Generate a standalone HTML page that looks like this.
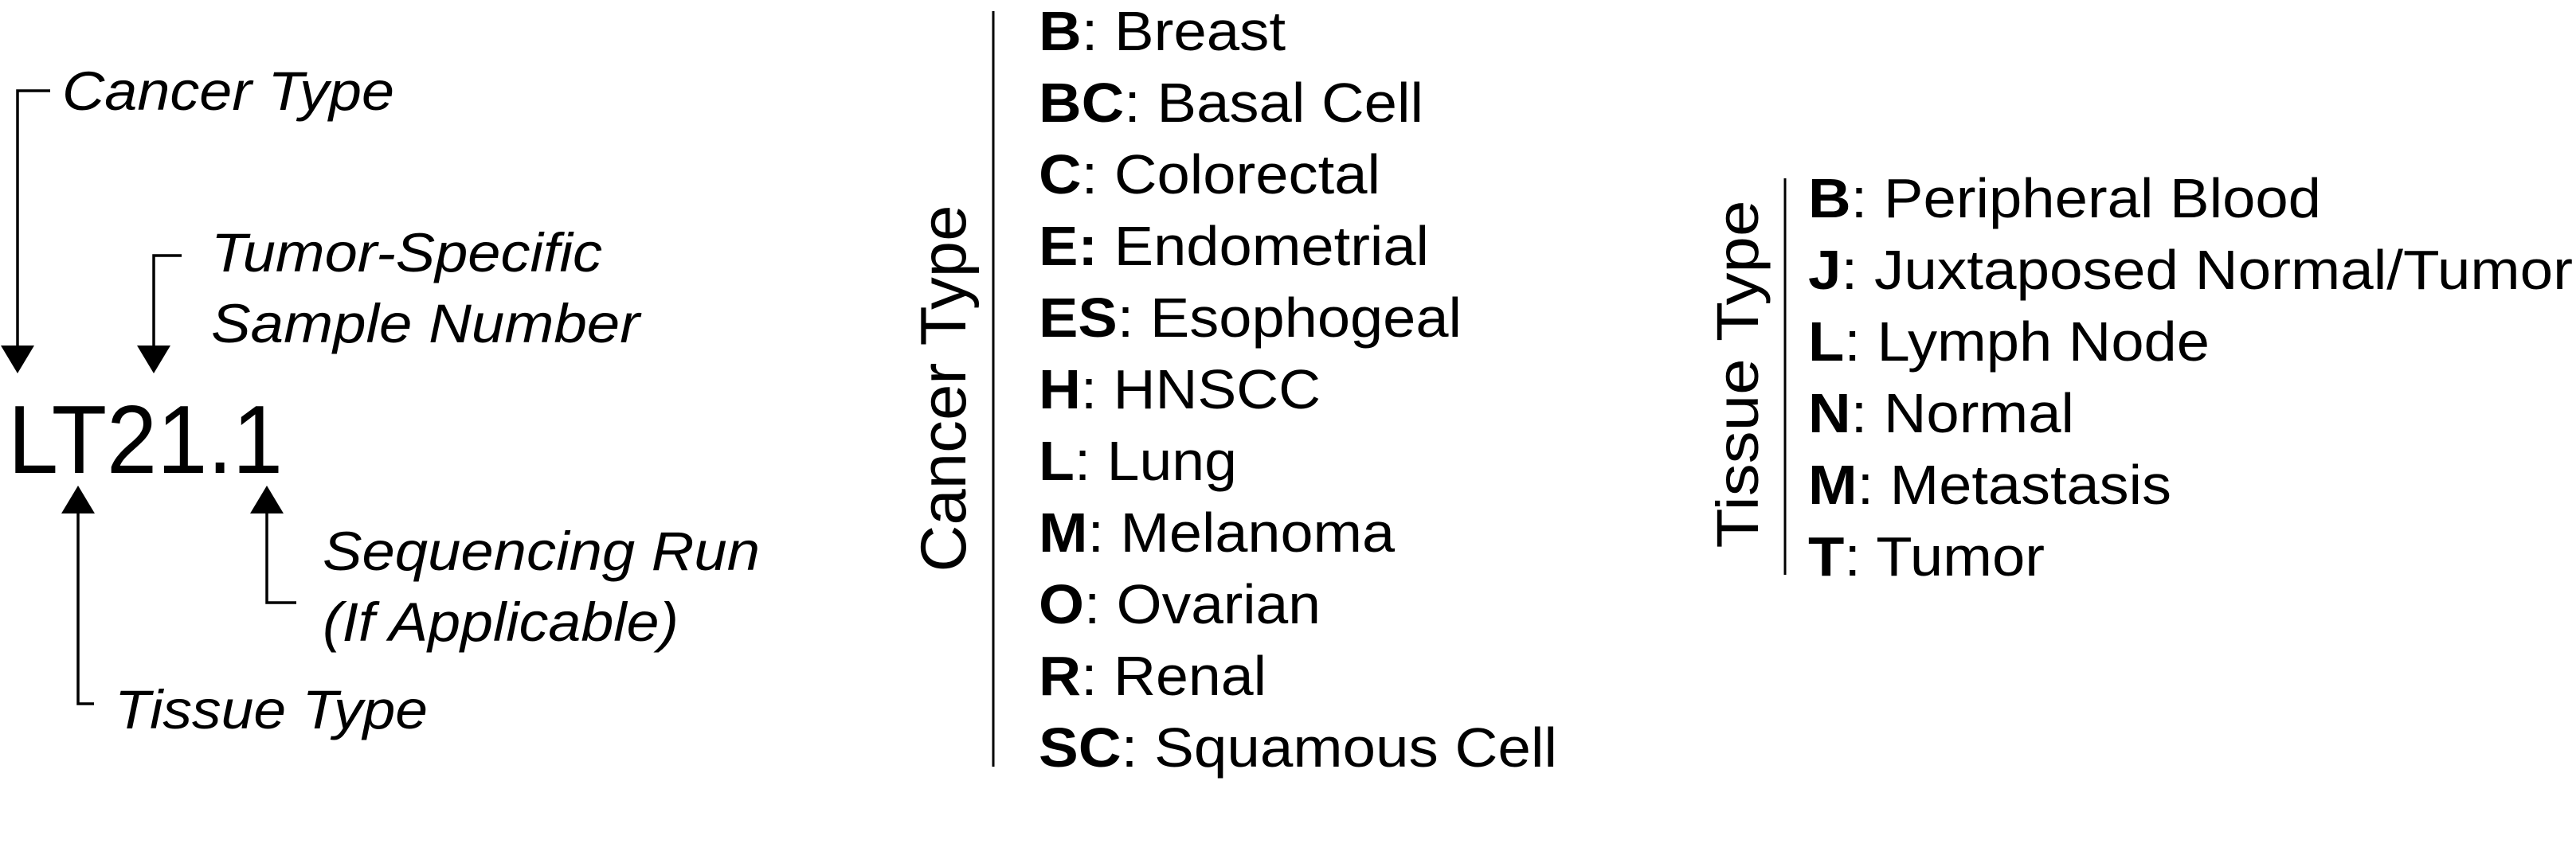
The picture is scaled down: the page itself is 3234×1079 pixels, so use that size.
<!DOCTYPE html>
<html><head><meta charset="utf-8"><style>
html,body{margin:0;padding:0;background:#fff;}
svg{display:block;}
text{font-family:"Liberation Sans",Arial,sans-serif;fill:#000;}
.it{font-style:italic;font-size:69px;}
.ct{font-size:70px;}
</style></head><body>
<svg width="3234" height="1079" viewBox="0 0 3234 1079">
<g stroke="#000" stroke-width="3.5" fill="none">
  <polyline points="63,114 22,114 22,437"/>
  <polyline points="228,321 193,321 193,437"/>
  <polyline points="118,884 98,884 98,642"/>
  <polyline points="372,757 335,757 335,642"/>
</g>
<g fill="#000">
  <polygon points="1,434 43,434 22,469"/>
  <polygon points="172,434 214,434 193,469"/>
  <polygon points="77,645 119,645 98,610"/>
  <polygon points="314,645 356,645 335,610"/>
</g>
<text class="it" x="78" y="138" textLength="417" lengthAdjust="spacingAndGlyphs">Cancer Type</text>
<text class="it" x="265" y="341" textLength="491" lengthAdjust="spacingAndGlyphs">Tumor-Specific</text>
<text class="it" x="265" y="430" textLength="538" lengthAdjust="spacingAndGlyphs">Sample Number</text>
<text x="10" y="594" style="font-size:122px" textLength="345" lengthAdjust="spacingAndGlyphs">LT21.1</text>
<text class="it" x="405" y="716" textLength="549" lengthAdjust="spacingAndGlyphs">Sequencing Run</text>
<text class="it" x="405" y="805" textLength="447" lengthAdjust="spacingAndGlyphs">(If Applicable)</text>
<text class="it" x="144" y="915" textLength="393" lengthAdjust="spacingAndGlyphs">Tissue Type</text>

<line x1="1247" y1="14" x2="1247" y2="963" stroke="#000" stroke-width="3"/>
<text transform="translate(1212,488) rotate(-90)" text-anchor="middle" style="font-size:81px" textLength="461" lengthAdjust="spacingAndGlyphs">Cancer Type</text>
<g>
<text class="ct" x="1304" y="63" textLength="310" lengthAdjust="spacingAndGlyphs"><tspan font-weight="bold">B</tspan>: Breast</text>
<text class="ct" x="1304" y="153" textLength="483" lengthAdjust="spacingAndGlyphs"><tspan font-weight="bold">BC</tspan>: Basal Cell</text>
<text class="ct" x="1304" y="243" textLength="429" lengthAdjust="spacingAndGlyphs"><tspan font-weight="bold">C</tspan>: Colorectal</text>
<text class="ct" x="1304" y="333" textLength="490" lengthAdjust="spacingAndGlyphs"><tspan font-weight="bold">E:</tspan> Endometrial</text>
<text class="ct" x="1304" y="423" textLength="531" lengthAdjust="spacingAndGlyphs"><tspan font-weight="bold">ES</tspan>: Esophogeal</text>
<text class="ct" x="1304" y="513" textLength="354" lengthAdjust="spacingAndGlyphs"><tspan font-weight="bold">H</tspan>: HNSCC</text>
<text class="ct" x="1304" y="603" textLength="249" lengthAdjust="spacingAndGlyphs"><tspan font-weight="bold">L</tspan>: Lung</text>
<text class="ct" x="1304" y="693" textLength="447" lengthAdjust="spacingAndGlyphs"><tspan font-weight="bold">M</tspan>: Melanoma</text>
<text class="ct" x="1304" y="783" textLength="354" lengthAdjust="spacingAndGlyphs"><tspan font-weight="bold">O</tspan>: Ovarian</text>
<text class="ct" x="1304" y="873" textLength="286" lengthAdjust="spacingAndGlyphs"><tspan font-weight="bold">R</tspan>: Renal</text>
<text class="ct" x="1304" y="963" textLength="651" lengthAdjust="spacingAndGlyphs"><tspan font-weight="bold">SC</tspan>: Squamous Cell</text>
</g>

<line x1="2241" y1="224" x2="2241" y2="722" stroke="#000" stroke-width="3"/>
<text transform="translate(2207,470) rotate(-90)" text-anchor="middle" style="font-size:74px" textLength="437" lengthAdjust="spacingAndGlyphs">Tissue Type</text>
<g>
<text class="ct" x="2270" y="273" textLength="644" lengthAdjust="spacingAndGlyphs"><tspan font-weight="bold">B</tspan>: Peripheral Blood</text>
<text class="ct" x="2270" y="363" textLength="960" lengthAdjust="spacingAndGlyphs"><tspan font-weight="bold">J</tspan>: Juxtaposed Normal/Tumor</text>
<text class="ct" x="2270" y="453" textLength="504" lengthAdjust="spacingAndGlyphs"><tspan font-weight="bold">L</tspan>: Lymph Node</text>
<text class="ct" x="2270" y="543" textLength="334" lengthAdjust="spacingAndGlyphs"><tspan font-weight="bold">N</tspan>: Normal</text>
<text class="ct" x="2270" y="633" textLength="456" lengthAdjust="spacingAndGlyphs"><tspan font-weight="bold">M</tspan>: Metastasis</text>
<text class="ct" x="2270" y="723" textLength="297" lengthAdjust="spacingAndGlyphs"><tspan font-weight="bold">T</tspan>: Tumor</text>
</g>
</svg>
</body></html>
